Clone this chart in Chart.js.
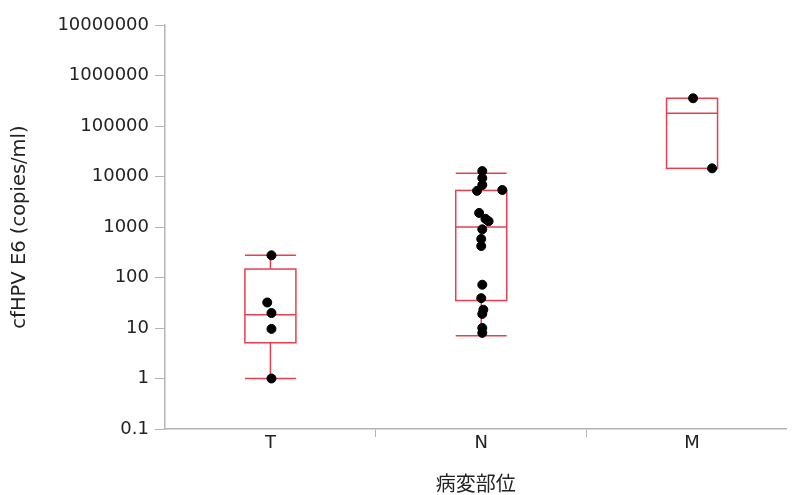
<!DOCTYPE html>
<html>
<head>
<meta charset="utf-8">
<script src="https://cdn.jsdelivr.net/npm/chart.js@4/dist/chart.umd.min.js"></script>
<style>
  html, body { margin: 0; padding: 0; background: #fff; }
  #wrap { width: 792px; height: 495px; }
</style>
</head>
<body>
<div id="wrap"><canvas id="myChart" width="792" height="495"></canvas></div>
<script>
const categories = ["T", "N", "M"];

// box statistics per category
const whiskerLow = [1, 7, 14500];
const q1 = [5.1, 35, 14500];
const medians = [18.3, 1000, 178000];
const q3 = [147, 5300, 354000];
const whiskerHigh = [275, 11600, 354000];

// individual samples, with the horizontal jitter
const pointsT = [275, 32, 19.8, 9.6, 1];
const jitterT = [0.005, -0.015, 0.005, 0.005, 0.005];
const pointsN = [12800, 9300, 6800, 5200, 5400, 1900, 1450, 1300, 900, 580, 420, 72, 39, 23, 19, 10, 8];
const jitterN = [0.005, 0.005, 0.005, -0.02, 0.1, -0.01, 0.02, 0.035, 0.005, 0, 0, 0.005, 0, 0.01, 0.005, 0.005, 0.005];
const pointsM = [354000, 14500];
const jitterM = [0.005, 0.095];

const yTicks = [0.1, 1, 10, 100, 1000, 10000, 100000, 1000000, 10000000];

const samples = [
  [pointsT, jitterT],
  [pointsN, jitterN],
  [pointsM, jitterM],
];

const scatterData = [];
samples.forEach(([vals, jit], i) => {
  vals.forEach((v, k) => scatterData.push({ x: i + jit[k], y: v }));
});

const RED = "#e6404f";
const AXIS = "#b4b4b4";
const X_MAX = 2.448;

const boxPlugin = {
  id: "boxes",
  beforeDatasetsDraw(chart) {
    const { ctx, scales: { x, y } } = chart;
    const hw = 25.5;
    ctx.save();
    ctx.strokeStyle = RED;
    ctx.lineWidth = 1.5;
    const line = (x1, y1, x2, y2) => {
      ctx.beginPath();
      ctx.moveTo(x1, y1);
      ctx.lineTo(x2, y2);
      ctx.stroke();
    };
    categories.forEach((c, i) => {
      const cx = x.getPixelForValue(i);
      const yLo = y.getPixelForValue(whiskerLow[i]);
      const yQ1 = y.getPixelForValue(q1[i]);
      const yMed = y.getPixelForValue(medians[i]);
      const yQ3 = y.getPixelForValue(q3[i]);
      const yHi = y.getPixelForValue(whiskerHigh[i]);
      ctx.strokeRect(cx - hw, yQ3, hw * 2, yQ1 - yQ3);
      line(cx - hw, yMed, cx + hw, yMed);
      if (whiskerHigh[i] > q3[i]) {
        line(cx, yQ3, cx, yHi);
        line(cx - hw, yHi, cx + hw, yHi);
      }
      if (whiskerLow[i] < q1[i]) {
        line(cx, yQ1, cx, yLo);
        line(cx - hw, yLo, cx + hw, yLo);
      }
    });
    ctx.restore();
  },
};

const xTicks = [];
categories.forEach((c, i) => { xTicks.push(i - 0.5, i); });

new Chart(document.getElementById("myChart"), {
  type: "scatter",
  data: {
    datasets: [
      {
        data: scatterData,
        backgroundColor: "#000",
        borderColor: "#000",
        pointRadius: 4.5,
        pointHoverRadius: 4.5,
      },
    ],
  },
  options: {
    responsive: false,
    animation: false,
    layout: { padding: { top: 25, left: 0, right: 0, bottom: 0 } },
    font: { family: "DejaVu Sans" },
    scales: {
      x: {
        type: "linear",
        min: -0.5,
        max: X_MAX,
        afterBuildTicks: (s) => { s.ticks = xTicks.map((v) => ({ value: v })); },
        afterFit: (s) => { s.height = 66; },
        ticks: {
          autoSkip: false,
          maxRotation: 0,
          padding: -4,
          color: "#222",
          font: { family: "DejaVu Sans", size: 18 },
          callback: (v) => (Number.isInteger(v) ? categories[v] : ""),
        },
        grid: {
          drawOnChartArea: false,
          tickLength: 8,
          color: (c) =>
            c.tick && !Number.isInteger(c.tick.value) && c.tick.value > -0.5 ? AXIS : "rgba(0,0,0,0)",
        },
        border: { color: AXIS, width: 1.5 },
        title: {
          display: true,
          text: "病変部位",
          color: "#222",
          font: { family: "Noto Sans CJK JP", size: 20 },
          padding: { top: 0, bottom: 0 },
        },
      },
      y: {
        type: "logarithmic",
        min: 0.1,
        max: 10000000,
        afterBuildTicks: (s) => { s.ticks = yTicks.map((v) => ({ value: v })); },
        afterFit: (s) => { s.width = 165; },
        ticks: {
          autoSkip: false,
          padding: 6,
          color: "#222",
          font: { family: "DejaVu Sans", size: 18 },
          callback: (v) => String(v),
        },
        grid: { drawOnChartArea: false, tickLength: 10, color: AXIS },
        border: { color: AXIS, width: 1.5 },
        title: {
          display: true,
          text: "cfHPV E6 (copies/ml)",
          color: "#222",
          font: { family: "DejaVu Sans", size: 19.5 },
          padding: { top: 8, bottom: 0 },
        },
      },
    },
    plugins: {
      legend: { display: false },
      tooltip: { enabled: false },
    },
  },
  plugins: [boxPlugin],
});
</script>
</body>
</html>
